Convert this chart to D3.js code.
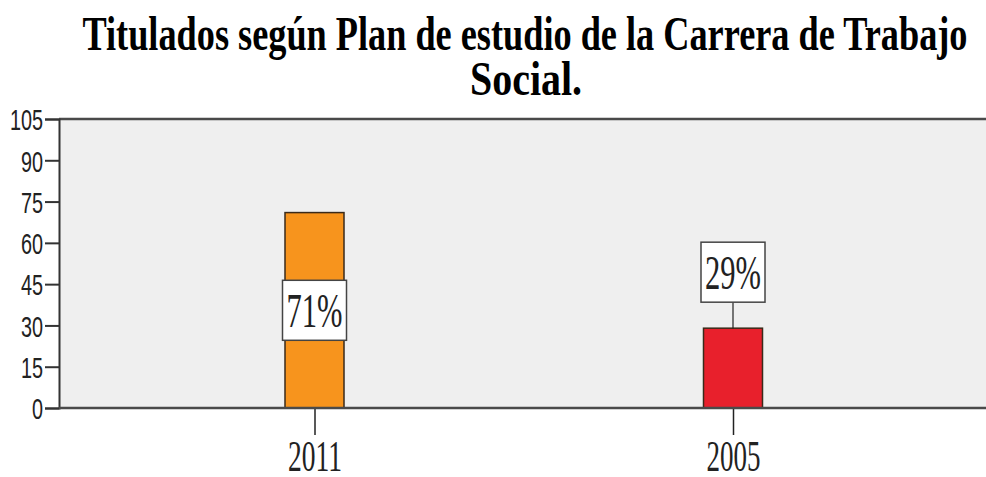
<!DOCTYPE html>
<html><head><meta charset="utf-8">
<script src="https://cdn.jsdelivr.net/npm/d3@7"></script>
<style>html,body{margin:0;padding:0;background:#fff;}svg{display:block;}</style>
</head><body>
<svg id="c" width="986" height="477"></svg>
<script>
const categories = ["2011", "2005"];
const values = [71, 29];
const labels = ["71%", "29%"];
const colors = ["#f7941d", "#e8202c"];
const yTicks = [0, 15, 30, 45, 60, 75, 90, 105];
const titleLines = ["Titulados según Plan de estudio de la Carrera de Trabajo", "Social."];

const svg = d3.select("#c");
const pLeft = 59, pTop = 119, pBottom = 408, pRight = 990;

const y = d3.scaleLinear().domain([0, 105]).range([pBottom, pTop]);
const x = d3.scalePoint().domain(categories).range([314.5, 733]);
const barW = 59;

// plot background
svg.append("rect").attr("x", pLeft).attr("y", pTop).attr("width", pRight - pLeft).attr("height", pBottom - pTop)
  .attr("fill", "#efefef");
svg.append("line").attr("x1", pLeft).attr("x2", pRight).attr("y1", pTop).attr("y2", pTop)
  .attr("stroke", "#4a4a4a").attr("stroke-width", 2.5);

// title
const tl = svg.append("g").attr("font-family", "Liberation Serif, Times New Roman, serif")
  .attr("font-weight", "bold").attr("fill", "#000");
tl.append("text").attr("x", 525).attr("y", 50).attr("text-anchor", "middle").attr("font-size", 48)
  .attr("textLength", 885).attr("lengthAdjust", "spacingAndGlyphs").text(titleLines[0]);
tl.append("text").attr("x", 526).attr("y", 95).attr("text-anchor", "middle").attr("font-size", 48)
  .attr("textLength", 112).attr("lengthAdjust", "spacingAndGlyphs").text(titleLines[1]);

// bars
svg.selectAll("rect.bar").data(categories).enter().append("rect").attr("class", "bar")
  .attr("x", d => x(d) - barW / 2).attr("width", barW)
  .attr("y", (d, i) => y(values[i])).attr("height", (d, i) => y(0) - y(values[i]))
  .attr("fill", (d, i) => colors[i]).attr("stroke", "#3a2a1a").attr("stroke-width", 1.5);

// y axis
const ya = svg.append("g").attr("transform", `translate(${pLeft},0)`)
  .call(d3.axisLeft(y).tickValues(yTicks).tickSize(14).tickPadding(2));
ya.select(".domain").attr("stroke", "#333").attr("stroke-width", 2);
ya.selectAll(".tick line").attr("stroke", "#333").attr("stroke-width", 2);
ya.selectAll(".tick text").attr("font-family", "Liberation Sans, Arial, sans-serif").attr("font-size", 30)
  .attr("fill", "#222").attr("x", -16 / 0.66).attr("dy", "0.36em").attr("transform", "scale(0.66,1)");

// x axis
const xa = svg.append("g").attr("transform", `translate(0,${pBottom})`)
  .call(d3.axisBottom(x).tickSize(27).tickPadding(5));
xa.select(".domain").remove();
xa.selectAll(".tick line").attr("stroke", "#222").attr("stroke-width", 1.5);
xa.selectAll(".tick text").attr("font-family", "Liberation Serif, Times New Roman, serif").attr("font-size", 44)
  .attr("fill", "#222").attr("dy", "0.7em").attr("textLength", 54).attr("lengthAdjust", "spacingAndGlyphs");
svg.append("line").attr("x1", pLeft).attr("x2", pRight).attr("y1", pBottom).attr("y2", pBottom)
  .attr("stroke", "#4a4a4a").attr("stroke-width", 2.5);

// value labels
const lab = svg.append("g");
categories.forEach((c, i) => {
  const cx = x(c);
  let cy;
  if (values[i] > 50) {
    cy = y(values[i] / 2);
  } else {
    cy = y(values[i]) - 56;
    lab.append("line").attr("x1", cx).attr("x2", cx).attr("y1", cy + 30).attr("y2", y(values[i]))
      .attr("stroke", "#222").attr("stroke-width", 1.2);
  }
  lab.append("rect").attr("x", cx - 32).attr("y", cy - 30).attr("width", 64).attr("height", 60)
    .attr("fill", "#fff").attr("stroke", "#444").attr("stroke-width", 1.5);
  lab.append("text").attr("x", cx).attr("y", cy).attr("dy", "0.35em").attr("text-anchor", "middle")
    .attr("font-family", "Liberation Serif, Times New Roman, serif").attr("font-size", 48).attr("fill", "#222")
    .attr("textLength", 56).attr("lengthAdjust", "spacingAndGlyphs").text(labels[i]);
});
</script>
</body></html>
